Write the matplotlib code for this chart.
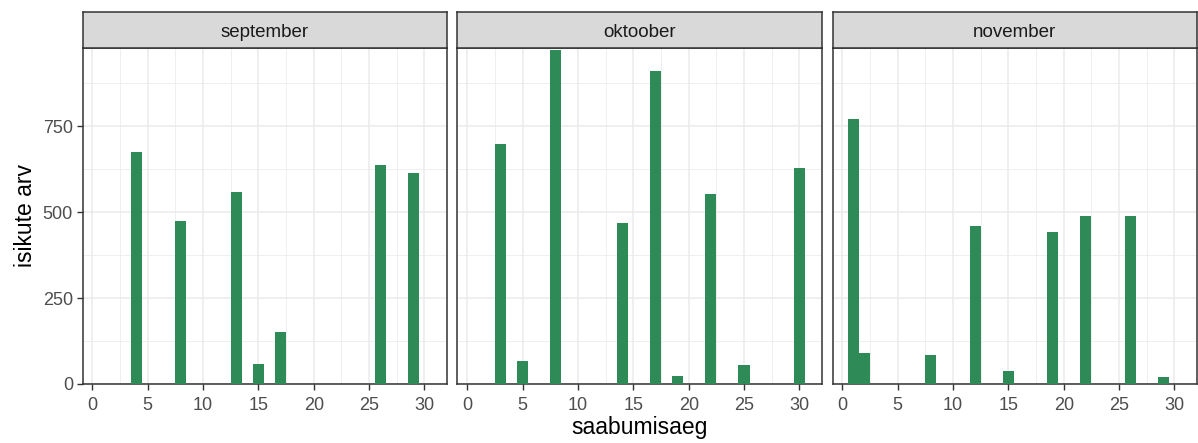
import matplotlib
matplotlib.use("Agg")
import matplotlib.pyplot as plt
from matplotlib.ticker import MultipleLocator

plt.rcParams['font.family'] = ['Liberation Sans', 'DejaVu Sans']

months = ["september", "oktoober", "november"]
sep_days = [4, 8, 13, 15, 17, 26, 29]
sep_counts = [675, 473, 557, 58, 150, 636, 614]
okt_days = [3, 5, 8, 14, 17, 19, 22, 25, 30]
okt_counts = [697, 68, 971, 469, 909, 23, 552, 54, 627]
nov_days = [1, 2, 8, 12, 15, 19, 22, 26, 29]
nov_counts = [772, 89, 85, 459, 37, 442, 489, 489, 19]
data = [(sep_days, sep_counts), (okt_days, okt_counts), (nov_days, nov_counts)]

x_ticks = [0, 5, 10, 15, 20, 25, 30]
y_ticks = [0, 250, 500, 750]

W, H = 1198, 443
fig = plt.figure(figsize=(W / 100, H / 100), dpi=100)

panel_left = [82.5, 457.5, 832.5]
panel_w = 364.5
p_top, p_bot = 47.7, 384.0
strip_h = 36.0
border_col = "#333333"
bar_col = "#2E8B57"

for i, (month, (days, counts)) in enumerate(zip(months, data)):
    l = panel_left[i]
    ax = fig.add_axes([l / W, 1 - p_bot / H, panel_w / W, (p_bot - p_top) / H])
    ax.bar(days, counts, width=1.0, color=bar_col, edgecolor='none', zorder=3)
    ax.set_xlim(-0.9, 32.05)
    ax.set_ylim(0, 978)
    ax.xaxis.set_minor_locator(MultipleLocator(2.5))
    ax.yaxis.set_minor_locator(MultipleLocator(125))
    ax.set_xticks(x_ticks)
    ax.set_yticks(y_ticks)
    ax.grid(True, which='major', color='#EBEBEB', linewidth=1.1, zorder=0)
    ax.grid(True, which='minor', color='#EBEBEB', linewidth=0.55, zorder=0)
    ax.set_axisbelow(True)
    for s in ax.spines.values():
        s.set_color(border_col)
        s.set_linewidth(1.1)
    ax.tick_params(which='major', length=4.3, width=1.0, color=border_col,
                   labelsize=13, labelcolor='#4D4D4D', pad=2.5)
    ax.tick_params(axis='x', which='major', pad=5)
    ax.tick_params(which='minor', length=0)
    if i > 0:
        ax.set_yticklabels([])
        ax.tick_params(axis='y', which='major', length=0)
    else:
        ax.set_ylabel("isikute arv", fontsize=16.5, color='black', labelpad=4)
    if i == 1:
        ax.set_xlabel("saabumisaeg", fontsize=16.5, color='black', labelpad=1.5)
    # strip
    sax = fig.add_axes([l / W, 1 - p_top / H, panel_w / W, strip_h / H])
    sax.set_xlim(0, 1)
    sax.set_ylim(0, 1)
    sax.set_facecolor('#D9D9D9')
    sax.set_xticks([])
    sax.set_yticks([])
    for s in sax.spines.values():
        s.set_color(border_col)
        s.set_linewidth(1.1)
    sax.text(0.5, 0.41, month, ha='center', va='center', fontsize=13.5, color='#1A1A1A')

fig.savefig("out.png", dpi=100, facecolor='white')
